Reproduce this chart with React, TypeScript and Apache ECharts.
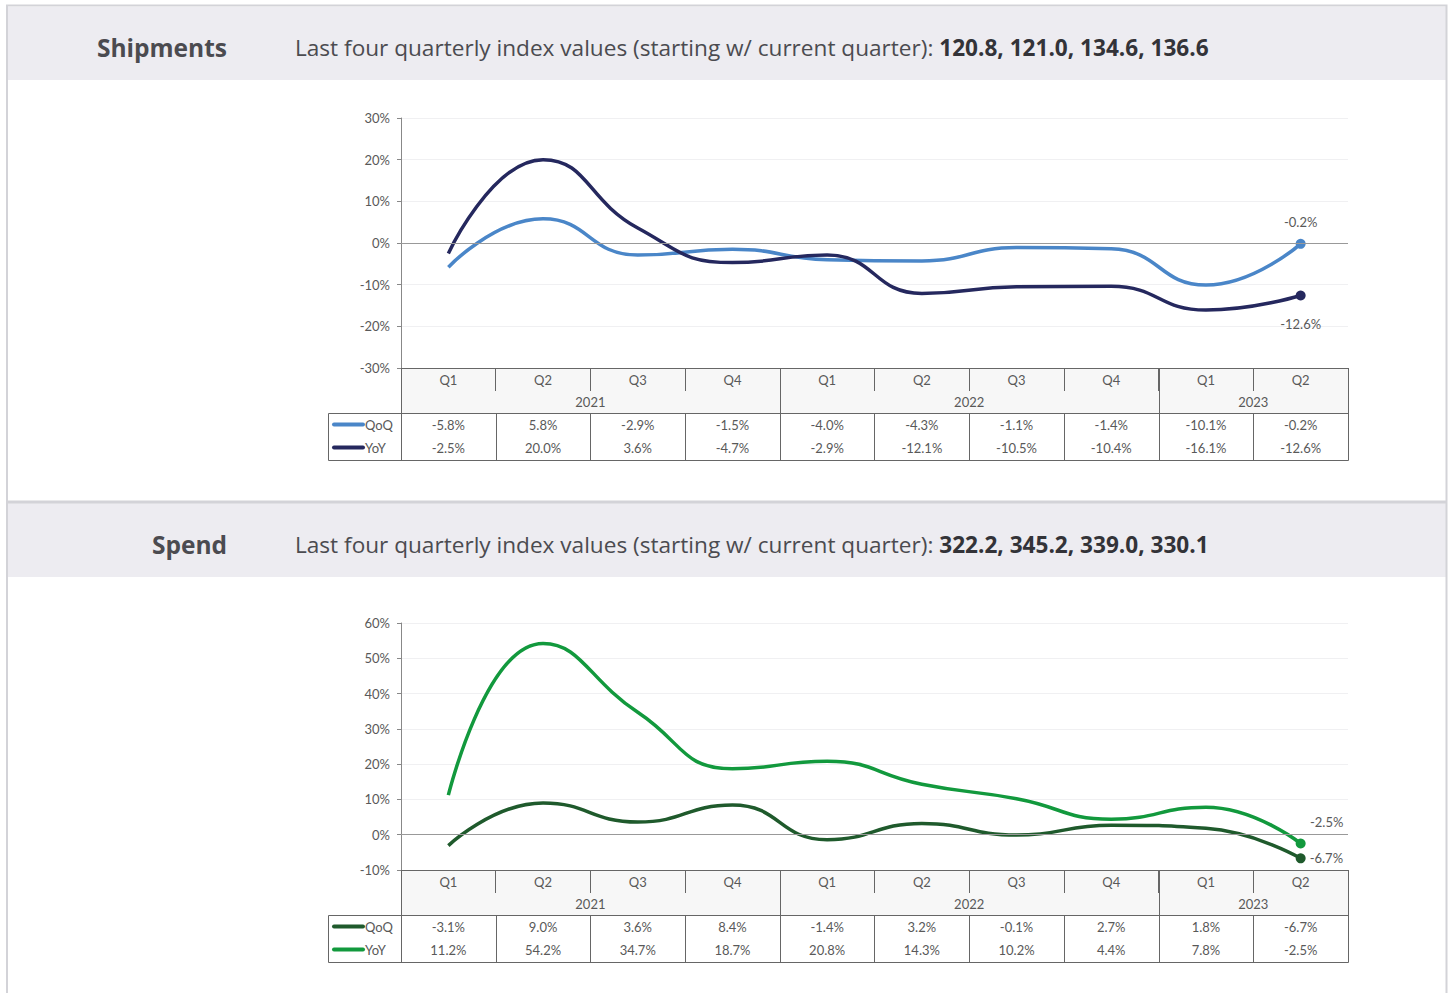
import React, { useEffect, useRef } from "react";
import * as echarts from "echarts";

const quarters = ["Q1", "Q2", "Q3", "Q4", "Q1", "Q2", "Q3", "Q4", "Q1", "Q2"];
const yearLabels = ["2021", "2022", "2023"];
const yearSpans = [4, 4, 2];

const shipQoQ = [-5.8, 5.8, -2.9, -1.5, -4.0, -4.3, -1.1, -1.4, -10.1, -0.2];
const shipYoY = [-2.5, 20.0, 3.6, -4.7, -2.9, -12.1, -10.5, -10.4, -16.1, -12.6];
const shipIndex = ["120.8", "121.0", "134.6", "136.6"];

const spendQoQ = [-3.1, 9.0, 3.6, 8.4, -1.4, 3.2, -0.1, 2.7, 1.8, -6.7];
const spendYoY = [11.2, 54.2, 34.7, 18.7, 20.8, 14.3, 10.2, 4.4, 7.8, -2.5];
const spendIndex = ["322.2", "345.2", "339.0", "330.1"];

const seriesNames = ["QoQ", "YoY"];

const FONT = "Lato, 'Open Sans', sans-serif";
const HFONT = "'Open Sans', Lato, sans-serif";
const TXT = "#595959";
const GRID_LINE = "#666666";

const fmt = (v: number) => v.toFixed(1) + "%";

const panels = [
  {
    title: "Shipments",
    index: shipIndex,
    values: [shipQoQ, shipYoY],
    colors: ["#4a86c8", "#25285e"],
    bandTop: 7,
    bandH: 73,
    gridTop: 118,
    gridH: 250,
    min: -30,
    max: 30,
    labels: [
      { position: "top", distance: 10 },
      { position: "bottom", distance: 17 },
    ],
  },
  {
    title: "Spend",
    index: spendIndex,
    values: [spendQoQ, spendYoY],
    colors: ["#1f5a2c", "#12993d"],
    bandTop: 503,
    bandH: 74,
    gridTop: 623,
    gridH: 247,
    min: -10,
    max: 60,
    labels: [
      { position: "right", distance: 4 },
      { position: "top", distance: 10, offset: [26, 0] },
    ],
  },
];

export default function App() {
  const ref = useRef<HTMLDivElement>(null);
  useEffect(() => {
    const chart = echarts.init(ref.current!, null, { renderer: "svg" });
    const grids: any[] = [];
    const xAxes: any[] = [];
    const yAxes: any[] = [];
    const series: any[] = [];
    panels.forEach((p, pi) => {
      grids.push({ left: 401, right: 102, top: p.gridTop, height: p.gridH, containLabel: false });
      xAxes.push({
        type: "category",
        gridIndex: pi,
        data: quarters,
        boundaryGap: true,
        axisLine: { show: true, onZero: false, lineStyle: { color: GRID_LINE, width: 1 } },
        axisTick: { show: true, interval: 0, length: 23, lineStyle: { color: GRID_LINE } },
        axisLabel: { show: true, interval: 0, margin: 5, fontSize: 13, color: TXT, fontFamily: FONT },
        splitLine: { show: false },
      });
      yAxes.push({
        type: "value",
        gridIndex: pi,
        min: p.min,
        max: p.max,
        interval: 10,
        axisLine: { show: true, lineStyle: { color: "#888888" } },
        axisTick: { show: true, length: 4, lineStyle: { color: "#888888" } },
        axisLabel: { formatter: "{value}%", fontSize: 13, color: TXT, fontFamily: FONT, margin: 11 },
        splitLine: { show: true, lineStyle: { color: "#f0f0f2" } },
      });
      p.values.forEach((vals, si) => {
        const last = vals.length - 1;
        series.push({
          type: "line",
          name: seriesNames[si],
          xAxisIndex: pi,
          yAxisIndex: pi,
          smooth: 0.5,
          data: vals.map((v, i) =>
            i === last
              ? { value: v, label: { show: true, ...p.labels[si], formatter: fmt(v) } }
              : v
          ),
          symbol: "circle",
          symbolSize: (_v: any, params: any) => (params.dataIndex === last ? 10 : 0),
          showSymbol: true,
          showAllSymbol: true,
          lineStyle: { color: p.colors[si], width: 3.5 },
          itemStyle: { color: p.colors[si] },
          label: { show: false, color: TXT, fontSize: 13, fontFamily: FONT },
          z: 3 + si,
          markLine:
            si === 0
              ? {
                  silent: true,
                  symbol: "none",
                  label: { show: false },
                  lineStyle: { color: "#999999", type: "solid", width: 1 },
                  data: [{ yAxis: 0 }],
                }
              : undefined,
        });
      });
    });

    chart.setOption({
      animation: false,
      backgroundColor: "#ffffff",
      grid: grids,
      xAxis: xAxes,
      yAxis: yAxes,
      series,
    });

    const g: any[] = [];
    const line = (x1: number, y1: number, x2: number, y2: number, stroke = GRID_LINE, lw = 1, z = 10) =>
      g.push({ type: "line", silent: true, z, shape: { x1, y1, x2, y2 }, style: { stroke, lineWidth: lw } });
    const text = (x: number, y: number, t: string, align = "center", extra: any = {}) =>
      g.push({
        type: "text",
        silent: true,
        z: 11,
        x,
        y,
        style: { text: t, fill: TXT, fontSize: 13, fontFamily: FONT, align, verticalAlign: "middle", ...extra },
      });

    // page frame
    g.push({
      type: "rect",
      silent: true,
      z: -5,
      shape: { x: 7, y: 5.5, width: 1439.5, height: 1000 },
      style: { fill: "none", stroke: "#d3d3d8", lineWidth: 2 },
    });
    line(7, 502, 1446, 502, "#d3d3d8", 3, -5);

    panels.forEach((p, pi) => {
      // header band
      g.push({
        type: "rect",
        silent: true,
        z: -10,
        shape: { x: 8, y: p.bandTop, width: 1438, height: p.bandH },
        style: { fill: "#edecf1" },
      });
      const cy = p.bandTop + p.bandH / 2 + 4;
      g.push({
        type: "text",
        silent: true,
        z: 11,
        x: 227,
        y: cy,
        style: { text: p.title, fill: "#4b4b50", fontSize: 24.5, fontWeight: "bold", fontFamily: HFONT, align: "right", verticalAlign: "middle" },
      });
      g.push({
        type: "text",
        silent: true,
        z: 11,
        x: 295,
        y: cy,
        style: {
          text: "{n|Last four quarterly index values (starting w/ current quarter): }{b|" + p.index.join(", ") + "}",
          align: "left",
          verticalAlign: "middle",
          rich: {
            n: { fontSize: 22.6, fontFamily: HFONT, fill: "#4b4b50" },
            b: { fontSize: 22.6, fontFamily: HFONT, fill: "#333338", fontWeight: "bold" },
          },
        },
      });

      // table
      const cx = (i: number) => chart.convertToPixel({ xAxisIndex: pi }, i) as number;
      const w = cx(1) - cx(0);
      const n = quarters.length;
      const b = Array.from({ length: n + 1 }, (_, i) => cx(0) - w / 2 + i * w);
      const top = Math.round(chart.convertToPixel({ yAxisIndex: pi }, p.min) as number) + 0.5;
      const yearBottom = top + 45;
      const bottom = top + 92;
      const legendLeft = 328.5;
      g.push({
        type: "rect",
        silent: true,
        z: -1,
        shape: { x: b[0], y: top, width: b[n] - b[0], height: 45 },
        style: { fill: "#f7f7f7" },
      });
      const yearBounds = [0];
      yearSpans.forEach((s) => yearBounds.push(yearBounds[yearBounds.length - 1] + s));
      for (let i = 0; i <= n; i++) {
        const x = Math.round(b[i]) + 0.5;
        if (yearBounds.includes(i)) line(x, top, x, bottom);
        else line(x, yearBottom, x, bottom);
      }
      line(legendLeft, yearBottom, Math.round(b[n]) + 0.5, yearBottom);
      line(legendLeft, bottom, Math.round(b[n]) + 0.5, bottom);
      line(legendLeft, yearBottom, legendLeft, bottom);
      yearLabels.forEach((yl, yi) => {
        text((b[yearBounds[yi]] + b[yearBounds[yi + 1]]) / 2, top + 33, yl);
      });
      p.values.forEach((vals, si) => {
        const ry = top + 56 + si * 23;
        g.push({
          type: "line",
          silent: true,
          z: 10,
          shape: { x1: 334, y1: ry, x2: 363, y2: ry },
          style: { stroke: p.colors[si], lineWidth: 4, lineCap: "round" },
        });
        text(365, ry, seriesNames[si], "left");
        vals.forEach((v, i) => text(cx(i), ry, fmt(v)));
      });
    });

    chart.setOption({ graphic: g });
    return () => chart.dispose();
  }, []);
  return <div ref={ref} style={{ position: "absolute", left: 0, top: 0, width: 1450, height: 993 }} />;
}
